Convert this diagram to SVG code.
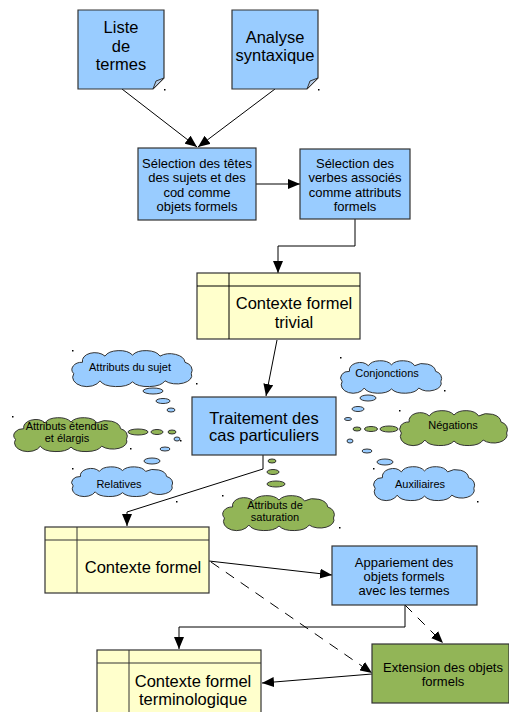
<svg xmlns="http://www.w3.org/2000/svg" xmlns:xlink="http://www.w3.org/1999/xlink" width="509" height="712" viewBox="0 0 509 712">
<style>
text{font-family:"Liberation Sans",Arial,sans-serif;fill:#000;text-anchor:middle}
.blue{fill:#99ccff;stroke:#333;stroke-width:1.2}
.yel{fill:#ffffcc;stroke:#333;stroke-width:1.2}
.grn{fill:#92b557;stroke:#333;stroke-width:1.2}
.cb{fill:#99ccff;stroke:#333}
.cg{fill:#92b557;stroke:#333}
.ln{fill:none;stroke:#000;stroke-width:1}
.dash{fill:none;stroke:#000;stroke-width:1;stroke-dasharray:10,8}
.bub{stroke:#333;stroke-width:1}
.t16{font-size:16.5px}
.t13{font-size:13px}
.t11{font-size:11px}
.dot{fill:#000}
</style>
<defs>
<marker id="ar" markerUnits="userSpaceOnUse" markerWidth="13" markerHeight="10" refX="12" refY="5" orient="auto">
<path d="M0,0 L12,5 L0,10 Z" fill="#000"/>
</marker>
<path id="cloud" vector-effect="non-scaling-stroke" stroke-width="1" d="M10,10 A10,8 0 0 1 28,4 A12,8 0 0 1 50,3 A12,8 0 0 1 72,4 A12,9 0 0 1 92,10 A8,8 0 0 1 97,21 A12,8 0 0 1 76,28 A14,8 0 0 1 50,29 A14,8 0 0 1 24,28 A10,8 0 0 1 3,21 A8,7 0 0 1 10,10 Z"/>
</defs>

<g id="connectors">
<line class="ln" x1="122" y1="89" x2="197" y2="147" marker-end="url(#ar)"/>
<line class="ln" x1="275" y1="89" x2="198" y2="147" marker-end="url(#ar)"/>
<line class="ln" x1="256" y1="184" x2="300" y2="184" marker-end="url(#ar)"/>
<polyline class="ln" points="355,219 355,246 278,246 278,273" marker-end="url(#ar)"/>
<line class="ln" x1="277" y1="340" x2="266" y2="396" marker-end="url(#ar)"/>
<polyline class="ln" points="263,455 263,469 127,512 127,526" marker-end="url(#ar)"/>
<line class="ln" x1="209" y1="561" x2="332" y2="575" marker-end="url(#ar)"/>
<line class="dash" x1="211" y1="562" x2="372" y2="673" marker-end="url(#ar)"/>
<polyline class="ln" points="405,605 405,627 179,627 179,649" marker-end="url(#ar)"/>
<line class="dash" x1="405" y1="605" x2="443" y2="643" marker-end="url(#ar)"/>
<line class="ln" x1="372" y1="674" x2="262" y2="683" marker-end="url(#ar)"/>
</g>

<g id="liste-termes">
<path class="blue" d="M78,10 H164 V78 L153,89 H78 Z"/>
<path d="M153,89 L156,81 L164,78 Z" fill="#b8cde6" stroke="#333" stroke-width="1"/>
<text class="t16" x="121" y="33">Liste</text>
<text class="t16" x="121" y="52">de</text>
<text class="t16" x="121" y="70">termes</text>
</g>

<g id="analyse-syntaxique">
<path class="blue" d="M232,10 H318 V78 L307,89 H232 Z"/>
<path d="M307,89 L310,81 L318,78 Z" fill="#b8cde6" stroke="#333" stroke-width="1"/>
<text class="t16" x="275" y="43">Analyse</text>
<text class="t16" x="275" y="61">syntaxique</text>
</g>

<g id="selection-tetes">
<rect class="blue" x="138" y="148" width="118" height="72"/>
<text class="t13" x="197" y="167.5">Sélection des têtes</text>
<text class="t13" x="197" y="182">des sujets et des</text>
<text class="t13" x="197" y="196.5">cod comme</text>
<text class="t13" x="197" y="211">objets formels</text>
</g>

<g id="selection-verbes">
<rect class="blue" x="300" y="149" width="110" height="70"/>
<text class="t13" x="355" y="167.5">Sélection des</text>
<text class="t13" x="355" y="182">verbes associés</text>
<text class="t13" x="355" y="196.5">comme attributs</text>
<text class="t13" x="355" y="211">formels</text>
</g>

<g id="contexte-trivial">
<rect class="yel" x="197" y="273" width="163" height="66"/>
<line class="ln" x1="197" y1="286" x2="360" y2="286" stroke="#333"/>
<line class="ln" x1="229" y1="273" x2="229" y2="339" stroke="#333"/>
<text class="t16" x="294" y="309">Contexte formel</text>
<text class="t16" x="294" y="328">trivial</text>
</g>

<g id="traitement">
<rect class="blue" x="192" y="397" width="144" height="58"/>
<text class="t16" x="264" y="424">Traitement des</text>
<text class="t16" x="264" y="441">cas particuliers</text>
</g>

<g id="bubbles">
<ellipse class="bub" cx="153" cy="391" rx="10" ry="3" fill="#99ccff"/>
<ellipse class="bub" cx="163" cy="401" rx="7" ry="2.5" fill="#99ccff"/>
<ellipse class="bub" cx="171" cy="410" rx="4" ry="2" fill="#99ccff"/>
<ellipse class="bub" cx="138" cy="432" rx="10" ry="3" fill="#92b557"/>
<ellipse class="bub" cx="157" cy="432" rx="6" ry="2.5" fill="#92b557"/>
<ellipse class="bub" cx="172" cy="432" rx="4" ry="2" fill="#92b557"/>
<ellipse class="bub" cx="177" cy="439" rx="3" ry="2" fill="#99ccff"/>
<ellipse class="bub" cx="165" cy="449" rx="5" ry="2" fill="#99ccff"/>
<ellipse class="bub" cx="152" cy="461" rx="8" ry="3" fill="#99ccff"/>
<ellipse class="bub" cx="368" cy="398" rx="8" ry="3" fill="#99ccff"/>
<ellipse class="bub" cx="358" cy="409" rx="6" ry="2.5" fill="#99ccff"/>
<ellipse class="bub" cx="348" cy="419" rx="3.5" ry="1.5" fill="#99ccff"/>
<ellipse class="bub" cx="389" cy="429" rx="9" ry="3" fill="#92b557"/>
<ellipse class="bub" cx="371" cy="429" rx="6.5" ry="2.5" fill="#92b557"/>
<ellipse class="bub" cx="357" cy="429" rx="4" ry="2" fill="#92b557"/>
<ellipse class="bub" cx="350" cy="441" rx="3" ry="2" fill="#99ccff"/>
<ellipse class="bub" cx="367" cy="451" rx="5" ry="2" fill="#99ccff"/>
<ellipse class="bub" cx="385" cy="462" rx="8" ry="3" fill="#99ccff"/>
<ellipse class="bub" cx="272" cy="461" rx="4" ry="2" fill="#92b557"/>
<ellipse class="bub" cx="273" cy="472" rx="6" ry="2.5" fill="#92b557"/>
<ellipse class="bub" cx="276" cy="484" rx="9" ry="3" fill="#92b557"/>
</g>

<g id="cloud-attributs-sujet">
<use xlink:href="#cloud" class="cb" transform="translate(70,352) scale(1.25,1.03)"/>
<text class="t11" x="130" y="371">Attributs du sujet</text>
</g>
<g id="cloud-attributs-etendus">
<use xlink:href="#cloud" class="cg" transform="translate(12,419) scale(1.18,0.97)"/>
<text class="t11" x="67" y="430">Attributs étendus</text>
<text class="t11" x="67" y="442">et élargis</text>
</g>
<g id="cloud-relatives">
<use xlink:href="#cloud" class="cb" transform="translate(70,468) scale(1.05,0.85)"/>
<text class="t11" x="119" y="488">Relatives</text>
</g>
<g id="cloud-conjonctions">
<use xlink:href="#cloud" class="cb" transform="translate(339,362) scale(1.05,0.93)"/>
<text class="t11" x="387" y="377">Conjonctions</text>
</g>
<g id="cloud-negations">
<use xlink:href="#cloud" class="cg" transform="translate(398,412) scale(1.12,1)"/>
<text class="t11" x="453" y="429">Négations</text>
</g>
<g id="cloud-auxiliaires">
<use xlink:href="#cloud" class="cb" transform="translate(372,468) scale(1.05,0.97)"/>
<text class="t11" x="420" y="488">Auxiliaires</text>
</g>
<g id="cloud-saturation">
<use xlink:href="#cloud" class="cg" transform="translate(221,497) scale(1.16,1)"/>
<text class="t11" x="275" y="509">Attributs de</text>
<text class="t11" x="275" y="521">saturation</text>
</g>

<g id="contexte-formel">
<rect class="yel" x="45" y="527" width="164" height="66"/>
<line x1="45" y1="540" x2="209" y2="540" stroke="#333" stroke-width="1"/>
<line x1="77" y1="527" x2="77" y2="593" stroke="#333" stroke-width="1"/>
<text class="t16" x="143" y="573">Contexte formel</text>
</g>

<g id="appariement">
<rect class="blue" x="332" y="546" width="145" height="59"/>
<text class="t13" x="404" y="566.5">Appariement des</text>
<text class="t13" x="404" y="580.5">objets formels</text>
<text class="t13" x="404" y="594.5">avec les termes</text>
</g>

<g id="extension">
<rect class="grn" x="372" y="644" width="137" height="59"/>
<text class="t13" x="443" y="671.5">Extension des objets</text>
<text class="t13" x="443" y="685.5">formels</text>
</g>

<g id="contexte-terminologique">
<rect class="yel" x="97" y="650" width="164" height="70"/>
<line x1="97" y1="663" x2="261" y2="663" stroke="#333" stroke-width="1"/>
<line x1="129" y1="650" x2="129" y2="720" stroke="#333" stroke-width="1"/>
<text class="t16" x="193" y="687">Contexte formel</text>
<text class="t16" x="193" y="705">terminologique</text>
</g>

<g id="handles">
<rect class="dot" x="164" y="89" width="1.5" height="1.5"/>
<rect class="dot" x="318" y="89" width="1.5" height="1.5"/>
<rect class="dot" x="72" y="350" width="1.5" height="1.5"/>
<rect class="dot" x="196" y="383" width="1.5" height="1.5"/>
<rect class="dot" x="12" y="416" width="1.5" height="1.5"/>
<rect class="dot" x="130" y="448" width="1.5" height="1.5"/>
<rect class="dot" x="72" y="468" width="1.5" height="1.5"/>
<rect class="dot" x="176" y="501" width="1.5" height="1.5"/>
<rect class="dot" x="222" y="495" width="1.5" height="1.5"/>
<rect class="dot" x="180" y="440" width="1.5" height="1.5"/>
<rect class="dot" x="340" y="357" width="1.5" height="1.5"/>
<rect class="dot" x="444" y="390" width="1.5" height="1.5"/>
<rect class="dot" x="399" y="410" width="1.5" height="1.5"/>
<rect class="dot" x="373" y="468" width="1.5" height="1.5"/>
<rect class="dot" x="477" y="501" width="1.5" height="1.5"/>
<rect class="dot" x="339" y="527" width="1.5" height="1.5"/>
</g>
</svg>
